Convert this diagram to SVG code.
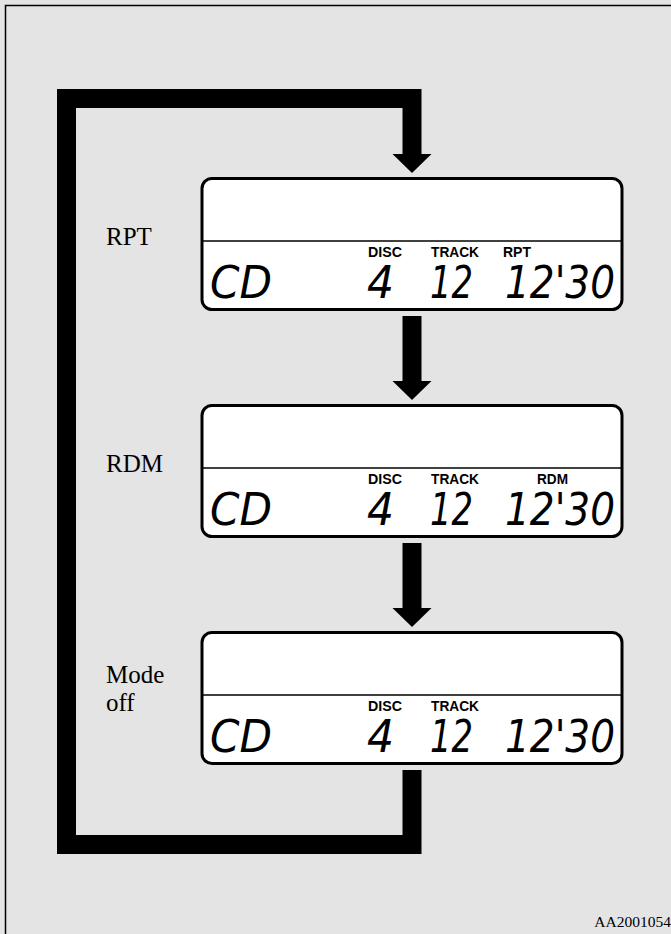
<svg xmlns="http://www.w3.org/2000/svg" width="671" height="934" viewBox="0 0 671 934">
<style>
.lbl{font-family:"Liberation Serif","Times New Roman",serif;font-size:25px;fill:#000}
.tag{font-family:"Liberation Sans Narrow","Liberation Sans",Arial,sans-serif;font-weight:bold;font-size:14px;fill:#000}
.lcd{font-family:"DejaVu Sans","Liberation Sans",sans-serif;font-style:italic;font-size:44px;fill:#000}
.box{fill:#fff;stroke:#000;stroke-width:3}
.div{stroke:#000;stroke-width:1.5}
.conn{fill:none;stroke:#000;stroke-width:19;stroke-linejoin:miter;stroke-linecap:butt}
</style>
<defs>
<g id="lcdrow">
<text class="lcd" x="210" y="298" textLength="62" lengthAdjust="spacingAndGlyphs">CD</text>
<text class="lcd" x="367" y="298" textLength="27" lengthAdjust="spacingAndGlyphs">4</text>
<text class="lcd" x="430" y="298" textLength="43" lengthAdjust="spacingAndGlyphs">12</text>
<text class="lcd" x="505" y="298" textLength="110" lengthAdjust="spacingAndGlyphs">12'30</text>
</g>
</defs>
<rect x="0" y="0" width="671" height="934" fill="#e4e4e4"/>
<rect x="5.5" y="5.5" width="700" height="1000" fill="none" stroke="#000" stroke-width="1.5"/>

<g id="connectors">
<path class="conn" d="M412,770 V844.5 H66.5 V98.5 H412 V154"/>
<polygon points="392.5,154 431.5,154 412,173" fill="#000"/>
<rect x="402.5" y="316" width="19" height="65" fill="#000"/>
<polygon points="392.5,381 431.5,381 412,400" fill="#000"/>
<rect x="402.5" y="543" width="19" height="65" fill="#000"/>
<polygon points="392.5,608 431.5,608 412,627" fill="#000"/>
</g>

<g id="rpt">
<rect class="box" x="202" y="178.5" width="420" height="131" rx="10"/>
<line class="div" x1="202" y1="241" x2="622" y2="241"/>
<text class="lbl" x="106" y="245">RPT</text>
<text class="tag" x="368" y="257" textLength="34" lengthAdjust="spacingAndGlyphs">DISC</text>
<text class="tag" x="431" y="257" textLength="48" lengthAdjust="spacingAndGlyphs">TRACK</text>
<text class="tag" x="503" y="257" textLength="28" lengthAdjust="spacingAndGlyphs">RPT</text>
<use href="#lcdrow"/>
</g>

<g id="rdm">
<rect class="box" x="202" y="405.5" width="420" height="131" rx="10"/>
<line class="div" x1="202" y1="468" x2="622" y2="468"/>
<text class="lbl" x="106" y="472">RDM</text>
<text class="tag" x="368" y="484" textLength="34" lengthAdjust="spacingAndGlyphs">DISC</text>
<text class="tag" x="431" y="484" textLength="48" lengthAdjust="spacingAndGlyphs">TRACK</text>
<text class="tag" x="537" y="484" textLength="31" lengthAdjust="spacingAndGlyphs">RDM</text>
<use href="#lcdrow" y="227"/>
</g>

<g id="modeoff">
<rect class="box" x="202" y="632.5" width="420" height="131" rx="10"/>
<line class="div" x1="202" y1="695" x2="622" y2="695"/>
<text class="lbl" x="106" y="683">Mode</text>
<text class="lbl" x="106" y="711">off</text>
<text class="tag" x="368" y="711" textLength="34" lengthAdjust="spacingAndGlyphs">DISC</text>
<text class="tag" x="431" y="711" textLength="48" lengthAdjust="spacingAndGlyphs">TRACK</text>
<use href="#lcdrow" y="454"/>
</g>

<text x="671" y="927" text-anchor="end" font-family="Liberation Serif,serif" font-size="15.5">AA2001054</text>
</svg>
